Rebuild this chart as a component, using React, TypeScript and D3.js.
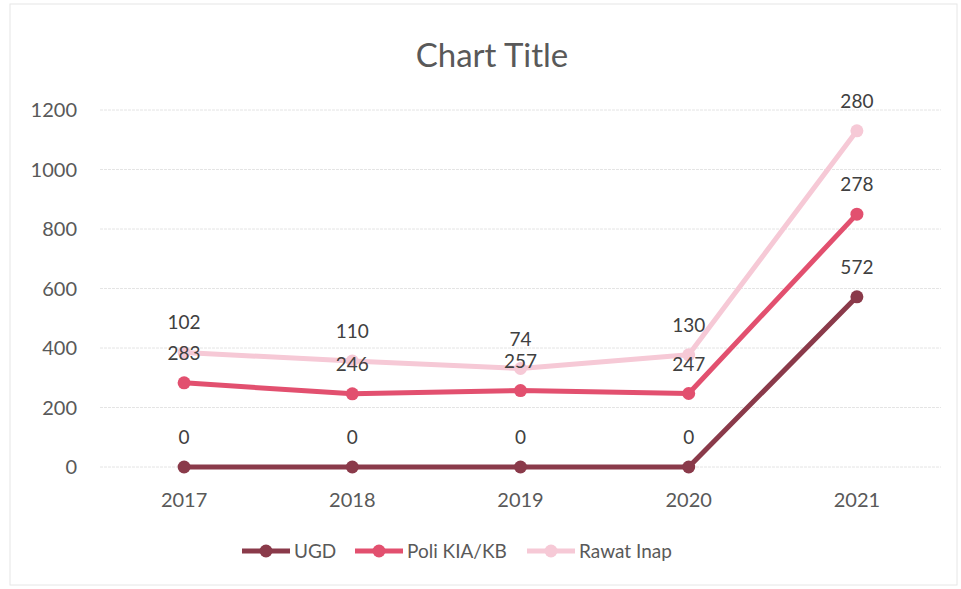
import React from "react";
import * as d3 from "d3";

const categories = ["2017", "2018", "2019", "2020", "2021"];
const seriesNames = ["UGD", "Poli KIA/KB", "Rawat Inap"];
const ugd = [0, 0, 0, 0, 572];
const poli = [283, 246, 257, 247, 278];
const rawat = [102, 110, 74, 130, 280];
const yTicks = [0, 200, 400, 600, 800, 1000, 1200];
const colors = ["#8a3a4a", "#e2506f", "#f6c9d6"];

export default function App() {
  const W = 961, H = 589;
  const x = d3.scaleBand<string>().domain(categories).range([100, 941]);
  const y = d3.scaleLinear().domain([0, 1200]).range([467, 110]);
  const raw = [ugd, poli, rawat];
  const stacked: number[][] = [];
  raw.forEach((s, i) => {
    stacked.push(s.map((v, j) => v + (i > 0 ? stacked[i - 1][j] : 0)));
  });
  const cx = (c: string) => (x(c) as number) + x.bandwidth() / 2;
  const line = d3.line<number>().x((_, j) => cx(categories[j])).y((v) => y(v));
  const font = "Lato, 'Open Sans', sans-serif";
  const textColor = "#595959";
  const legendX = [242, 355, 527];

  return (
    <svg width={W} height={H} style={{ position: "absolute", left: 0, top: 0 }} fontFamily={font}>
      <rect x={0} y={0} width={W} height={H} fill="#fff" />
      <rect x={10} y={4} width={W - 14} height={H - 8} fill="none" stroke="#e6e6e6" strokeWidth={1} />
      <text x={492} y={67} textAnchor="middle" fontSize={33} fill={textColor}>Chart Title</text>
      {yTicks.map((t) => (
        <g key={t}>
          <line x1={100} x2={941} y1={y(t)} y2={y(t)} stroke="#e4e4e4" strokeWidth={1} strokeDasharray="3,1" />
          <text x={77} y={y(t) + 7} textAnchor="end" fontSize={20} fill={textColor}>{t}</text>
        </g>
      ))}
      {categories.map((c) => (
        <text key={c} x={cx(c)} y={507} textAnchor="middle" fontSize={20} fill={textColor}>{c}</text>
      ))}
      {stacked.map((s, i) => (
        <g key={i}>
          <path d={line(s) || ""} fill="none" stroke={colors[i]} strokeWidth={5} strokeLinejoin="round" />
          {s.map((v, j) => (
            <circle key={j} cx={cx(categories[j])} cy={y(v)} r={6.5} fill={colors[i]} />
          ))}
        </g>
      ))}
      {stacked.map((s, i) =>
        s.map((v, j) => (
          <text key={`${i}-${j}`} x={cx(categories[j])} y={y(v) - 23} textAnchor="middle" fontSize={19} fill="#404040">
            {raw[i][j]}
          </text>
        ))
      )}
      {seriesNames.map((n, i) => (
        <g key={n}>
          <line x1={legendX[i]} x2={legendX[i] + 48} y1={551} y2={551} stroke={colors[i]} strokeWidth={5} />
          <circle cx={legendX[i] + 24} cy={551} r={6.5} fill={colors[i]} />
          <text x={legendX[i] + 52} y={558} fontSize={19} fill={textColor}>{n}</text>
        </g>
      ))}
    </svg>
  );
}
